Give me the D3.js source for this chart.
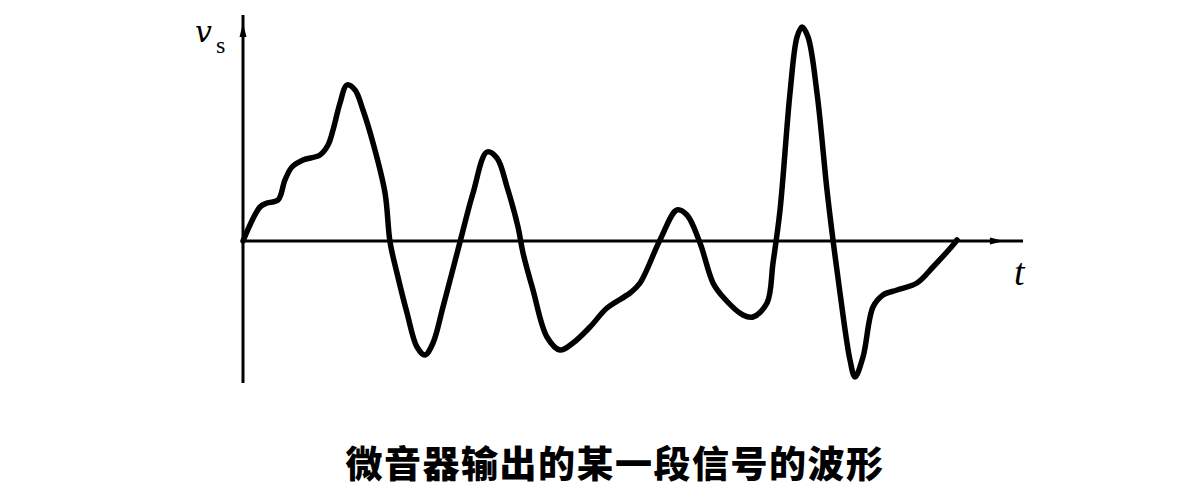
<!DOCTYPE html>
<html><head><meta charset="utf-8">
<script src="https://cdn.jsdelivr.net/npm/d3@7"></script>
<style>html,body{margin:0;padding:0;background:#fff;}svg{display:block;}</style>
</head><body>
<svg id="chart" width="1194" height="495"></svg>
<script>
const timeValues = [0,2.18,3.08,4.49,5.38,6.28,7.69,9.87,10.9,11.54,12.44,13.33,14.36,15.38,16.67,18.21,18.85,19.74,21.03,22.31,23.33,24.36,25.64,27.82,29.49,31.28,32.56,33.85,35.26,35.9,37.18,38.97,40.64,42.31,44.49,46.67,49.62,50.9,53.46,55.64,56.92,58.59,60.26,61.54,64.1,65.38,67.18,67.95,68.85,70.13,71.03,71.67,72.44,73.59,74.87,75.64,76.54,77.82,78.46,79.49,80.77,82.05,83.85,86.41,88.46,91.03,91.54];
const signalValues = [0,3.4,3.8,4.1,6.1,7.4,8.1,8.6,9.6,11.1,13.8,15.6,15.1,13.1,9.8,4.8,-0.1,-3.2,-7.2,-10.6,-11.4,-10.2,-6.6,-0.1,4.8,8.9,8.3,5.4,1.4,-1.2,-4.9,-9.6,-10.9,-10.2,-8.6,-6.7,-5.2,-4.2,0.1,3.1,2.6,-0.2,-4.2,-5.6,-7.4,-7.6,-6.2,-2.2,3.1,14.8,20.4,21.4,20.4,14.8,5.1,0.1,-5.2,-11.9,-13.6,-11.6,-6.6,-5.4,-4.9,-4.2,-2.6,-0.4,0.1];
const xAxisLabel = "t";
const yAxisLabel = "v";
const yAxisSub = "s";
const titleText = "微音器输出的某一段信号的波形";

const svg = d3.select("#chart");
const x = d3.scaleLinear().domain([0, 100]).range([243, 1023]);
const y = d3.scaleLinear().domain([-14.2, 22.6]).range([383, 15]);

// axes
svg.append("line").attr("x1", x(0)).attr("x2", x(100)).attr("y1", y(0)).attr("y2", y(0))
  .attr("stroke", "#000").attr("stroke-width", 3);
svg.append("line").attr("x1", x(0)).attr("x2", x(0)).attr("y1", y(-14.2)).attr("y2", y(22.6))
  .attr("stroke", "#000").attr("stroke-width", 3);
// arrowheads
const ax = x(97.3), ay = y(0);
svg.append("path").attr("d", `M${ax-12},${ay-3.5} L${ax+2},${ay} L${ax-12},${ay+3.5} Z`).attr("fill", "#000");
const bx = x(0), by = y(21.4);
svg.append("path").attr("d", `M${bx-3.5},${by+10} L${bx},${by-4} L${bx+3.5},${by+10} Z`).attr("fill", "#000");

// signal
const data = timeValues.map((t, i) => ({t, v: signalValues[i]}));
const line = d3.line().x(d => x(d.t)).y(d => y(d.v)).curve(d3.curveCatmullRom.alpha(0.5));
svg.append("path").datum(data).attr("d", line).attr("fill", "none")
  .attr("stroke", "#000").attr("stroke-width", 5.5).attr("stroke-linejoin", "round").attr("stroke-linecap", "round");

// labels
svg.append("text").attr("x", 195).attr("y", 42)
  .attr("font-family", "'DejaVu Serif', serif").attr("font-style", "italic")
  .attr("font-size", 30).attr("fill", "#000").text(yAxisLabel);
svg.append("text").attr("x", 216).attr("y", 53)
  .attr("font-family", "'Liberation Serif', serif")
  .attr("font-size", 24).attr("fill", "#000").text(yAxisSub);

svg.append("text").attr("x", 1014).attr("y", 285)
  .attr("font-family", "'Liberation Serif', 'DejaVu Serif', serif").attr("font-style", "italic")
  .attr("font-size", 38).attr("fill", "#000").text(xAxisLabel);

svg.append("text").attr("x", 615).attr("y", 478).attr("text-anchor", "middle")
  .attr("font-family", "'Noto Sans CJK SC', sans-serif").attr("font-weight", 900)
  .attr("font-size", 37).attr("letter-spacing", 1.5).attr("fill", "#000").text(titleText);
</script>
</body></html>
